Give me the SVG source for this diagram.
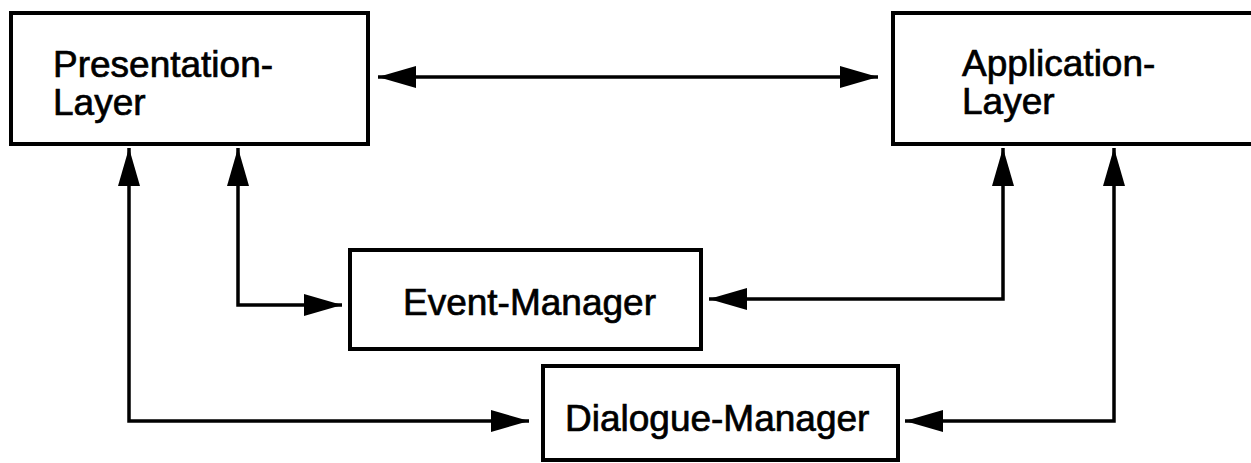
<svg xmlns="http://www.w3.org/2000/svg" width="1251" height="463" viewBox="0 0 1251 463">
  <defs>
    <marker id="arrow" viewBox="0 0 38 22" refX="38" refY="11" markerWidth="38" markerHeight="22" markerUnits="userSpaceOnUse" orient="auto-start-reverse">
      <path d="M0,0 L38,11 L0,22 Z" fill="#000"/>
    </marker>
  </defs>
  <style>
    .box { fill: #fff; stroke: #000; stroke-width: 4; }
    .label { font-family: "Liberation Sans", Arial, sans-serif; font-size: 37px; fill: #000; stroke: #000; stroke-width: 0.7; }
    .wire { fill: none; stroke: #000; stroke-width: 3.5; stroke-linejoin: miter; }
  </style>
  <rect width="1251" height="463" fill="#fff"/>

  <g id="presentation-layer">
    <rect class="box" x="11" y="13" width="357" height="131"/>
    <text class="label" x="53" y="77">Presentation-</text>
    <text class="label" x="53" y="115">Layer</text>
  </g>

  <g id="application-layer">
    <rect class="box" x="893" y="13" width="360" height="131"/>
    <text class="label" x="962" y="76">Application-</text>
    <text class="label" x="962" y="114">Layer</text>
  </g>

  <g id="event-manager">
    <rect class="box" x="350" y="250" width="351" height="99"/>
    <text class="label" x="403" y="315">Event-Manager</text>
  </g>

  <g id="dialogue-manager">
    <rect class="box" x="543" y="366" width="355" height="94"/>
    <text class="label" x="565" y="431">Dialogue-Manager</text>
  </g>

  <g id="connectors">
    <path class="wire" d="M378,77 L878,77" marker-start="url(#arrow)" marker-end="url(#arrow)"/>
    <path class="wire" d="M238,148 L238,305 L342,305" marker-start="url(#arrow)" marker-end="url(#arrow)"/>
    <path class="wire" d="M129,148 L129,421 L529,421" marker-start="url(#arrow)" marker-end="url(#arrow)"/>
    <path class="wire" d="M1003,148 L1003,299 L709,299" marker-start="url(#arrow)" marker-end="url(#arrow)"/>
    <path class="wire" d="M1114,148 L1114,421 L905,421" marker-start="url(#arrow)" marker-end="url(#arrow)"/>
  </g>
</svg>
